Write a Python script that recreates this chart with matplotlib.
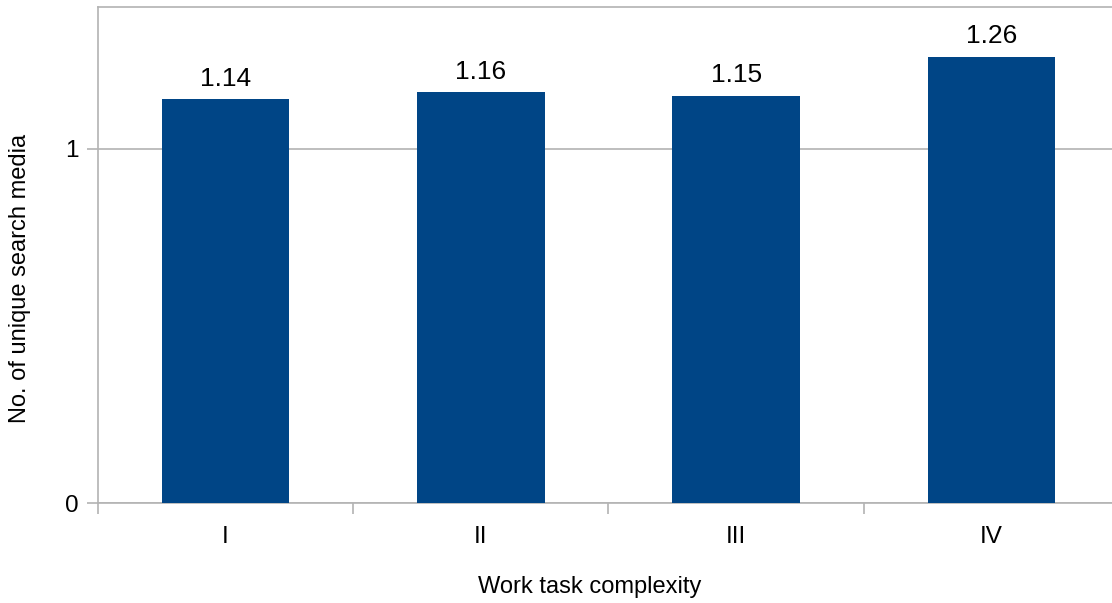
import matplotlib
matplotlib.use("Agg")
import matplotlib.pyplot as plt

# Mean number of unique search media per work task complexity level
categories = ["I", "II", "III", "IV"]
values = [1.14, 1.16, 1.15, 1.26]
y_ticks = [0, 1]

plt.rcParams["font.family"] = ["Liberation Sans", "DejaVu Sans"]

BAR_COLOR = "#004586"
LINE_COLOR = "#b3b3b3"
FS = 17.5
FS_VALUE = 19

fig = plt.figure(figsize=(11.12, 6.03), dpi=100)
ax = fig.add_axes([98 / 1112, 1 - 503 / 603, (1119 - 98) / 1112, (503 - 7) / 603])

x = list(range(len(categories)))
ax.bar(x, values, width=0.5, color=BAR_COLOR, zorder=3)

for xi, v in zip(x, values):
    ax.annotate(f"{v:.2f}", (xi, v), xytext=(0, 9.5), textcoords="offset points",
                ha="center", va="baseline", fontsize=FS_VALUE, color="black")

ax.set_xlim(-0.5, len(categories) - 0.5)
ax.set_ylim(0, 1.4)
ax.set_yticks(y_ticks)
ax.set_yticklabels([str(t) for t in y_ticks])
ax.yaxis.grid(True, color=LINE_COLOR, linewidth=1.2, zorder=0)

# Category boundaries carry the x tick marks; labels sit at the centres
ax.set_xticks([i - 0.5 for i in range(len(categories) + 1)])
ax.set_xticklabels([""] * (len(categories) + 1))
ax.set_xticks(x, minor=True)
ax.set_xticklabels(categories, minor=True)
ax.tick_params(axis="x", which="minor", length=0, pad=16.5, labelsize=FS)
ax.tick_params(axis="x", which="major", length=8, width=1.2, color=LINE_COLOR, direction="out")
ax.tick_params(axis="y", length=8, width=1.2, color=LINE_COLOR, pad=6, labelsize=FS)

for side in ["left", "bottom", "top", "right"]:
    ax.spines[side].set_color(LINE_COLOR)
    ax.spines[side].set_linewidth(1.2)

ax.set_xlabel("Work task complexity", fontsize=17, va="baseline")
ax.xaxis.set_label_coords((590 - 98) / 1021, (503 - 593) / 496)
ax.set_ylabel("No. of unique search media", fontsize=17, va="center")
ax.yaxis.set_label_coords((20 - 98) / 1021, (503 - 278.5) / 496)

fig.savefig("out.png", dpi=100)
